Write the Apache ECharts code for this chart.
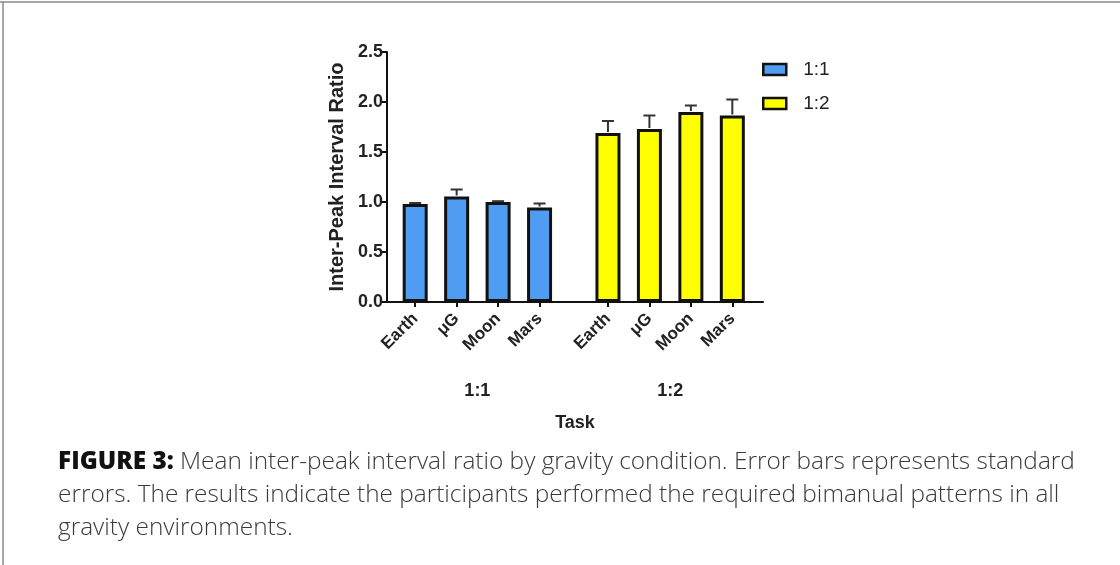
<!DOCTYPE html>
<html>
<head>
<meta charset="utf-8">
<script src="https://cdn.jsdelivr.net/npm/echarts@6/dist/echarts.min.js"></script>
<style>
html,body{margin:0;padding:0;background:#fff;}
#chart{width:1120px;height:565px;}
</style>
</head>
<body>
<div id="chart"></div>
<script>
// ---- data ----
const conditions = ['Earth', 'μG', 'Moon', 'Mars'];
const tasks = ['1:1', '1:2'];
const means11 = [0.98, 1.055, 1.0, 0.945];
const errs11 = [0.01, 0.07, 0.008, 0.04];
const means12 = [1.69, 1.73, 1.90, 1.865];
const errs12 = [0.12, 0.135, 0.065, 0.16];
const yTicks = [0, 0.5, 1.0, 1.5, 2.0, 2.5];

// ---- layout helpers (positions on the x value scale, in bar slots) ----
const groupStart = [0.68, 5.33];
const xMax = 9.07;
const means = [means11, means12];
const errs = [errs11, errs12];
const colors = ['#4f9df2', '#ffff00'];
const FONT = 'Liberation Sans, Arial, sans-serif';

const xs = [], names = [];
groupStart.forEach((s, g) => conditions.forEach((c, i) => { xs.push(s + i); names.push(c); }));
const groupCenters = groupStart.map(s => s + (conditions.length - 1) / 2);
function nameAt(v, arr, labels) {
  let best = 0, d = 1e9;
  arr.forEach((x, i) => { const dd = Math.abs(x - v); if (dd < d) { d = dd; best = i; } });
  return d < 0.05 ? labels[best] : '';
}

const barSeries = tasks.map((t, g) => ({
  name: t,
  type: 'bar',
  xAxisIndex: 0,
  barWidth: 25,
  barGap: '-100%',
  data: means[g].map((m, i) => [groupStart[g] + i, m]),
  itemStyle: { color: colors[g], borderColor: '#111', borderWidth: 3 },
  z: 2
}));

const errData = [];
tasks.forEach((t, g) => means[g].forEach((m, i) => errData.push([groupStart[g] + i, m, m + errs[g][i]])));

const errSeries = {
  type: 'custom',
  xAxisIndex: 0,
  z: 3,
  silent: true,
  data: errData,
  renderItem: function (params, api) {
    const x = api.value(0);
    const lo = api.coord([x, api.value(1)]);
    const hi = api.coord([x, api.value(2)]);
    const hw = 6;
    return {
      type: 'group',
      children: [
        { type: 'line', shape: { x1: lo[0], y1: lo[1] - 1, x2: hi[0], y2: hi[1] }, style: { stroke: '#333', lineWidth: 2 } },
        { type: 'line', shape: { x1: hi[0] - hw, y1: hi[1], x2: hi[0] + hw, y2: hi[1] }, style: { stroke: '#333', lineWidth: 2 } }
      ]
    };
  }
};

const chart = echarts.init(document.getElementById('chart'), null, { renderer: 'canvas' });
const option = {
  animation: false,
  backgroundColor: '#fff',
  grid: { left: 387, right: 357, top: 52, bottom: 263, containLabel: false },
  legend: {
    orient: 'vertical',
    left: 762, top: 60, padding: 0,
    itemWidth: 23, itemHeight: 11, itemGap: 15,
    icon: 'rect',
    itemStyle: { borderColor: '#111', borderWidth: 2.5 },
    textStyle: { fontFamily: FONT, fontSize: 19, color: '#222', padding: [0, 0, 0, 12] },
    data: tasks
  },
  xAxis: [{
    type: 'value', min: 0, max: xMax,
    axisLine: { show: true, onZero: false, lineStyle: { color: '#111', width: 2 } },
    axisTick: { show: true, customValues: xs, length: 5, lineStyle: { color: '#111', width: 2 } },
    axisLabel: {
      customValues: xs, rotate: 45, margin: 14,
      formatter: v => nameAt(v, xs, names),
      fontFamily: FONT, fontWeight: 'bold', fontSize: 17, color: '#222'
    },
    splitLine: { show: false }
  }, {
    type: 'value', min: 0, max: xMax, position: 'bottom', offset: 74,
    axisLine: { show: false }, axisTick: { show: false }, splitLine: { show: false },
    axisLabel: {
      customValues: groupCenters, margin: 6,
      formatter: v => nameAt(v, groupCenters, tasks),
      fontFamily: FONT, fontWeight: 'bold', fontSize: 18, color: '#222'
    },
    name: 'Task', nameLocation: 'middle', nameGap: 38,
    nameTextStyle: { fontFamily: FONT, fontWeight: 'bold', fontSize: 18, color: '#222' }
  }],
  yAxis: {
    type: 'value', min: 0, max: 2.5, interval: 0.5,
    axisLine: { show: true, lineStyle: { color: '#111', width: 2 } },
    axisTick: { show: true, length: 5, lineStyle: { color: '#111', width: 2 } },
    axisLabel: {
      formatter: v => v.toFixed(1), margin: 4,
      fontFamily: FONT, fontWeight: 'bold', fontSize: 18, color: '#222'
    },
    splitLine: { show: false },
    name: 'Inter-Peak Interval Ratio', nameLocation: 'middle', nameGap: 40, nameRotate: 90,
    nameTextStyle: { fontFamily: FONT, fontWeight: 'bold', fontSize: 20, color: '#222' }
  },
  graphic: [
    { type: 'line', shape: { x1: 0, y1: 2, x2: 1120, y2: 2 }, style: { stroke: '#8a8a8a', lineWidth: 1.5 } },
    { type: 'line', shape: { x1: 3, y1: 2, x2: 3, y2: 565 }, style: { stroke: '#8a8a8a', lineWidth: 1.5 } },
    {
      type: 'text', left: 58, top: 446,
      style: {
        text: '{b|FIGURE 3:} Mean inter-peak interval ratio by gravity condition. Error bars represents standard\nerrors. The results indicate the participants performed the required bimanual patterns in all\ngravity environments.',
        font: '300 24.4px "Open Sans", sans-serif',
        fill: '#3a3a3a',
        lineHeight: 33,
        rich: { b: { fontFamily: 'Open Sans, sans-serif', fontWeight: 800, fontSize: 24.4, fill: '#111', lineHeight: 33 } }
      }
    }
  ],
  series: [...barSeries, errSeries]
};
chart.setOption(option);
</script>
</body>
</html>
